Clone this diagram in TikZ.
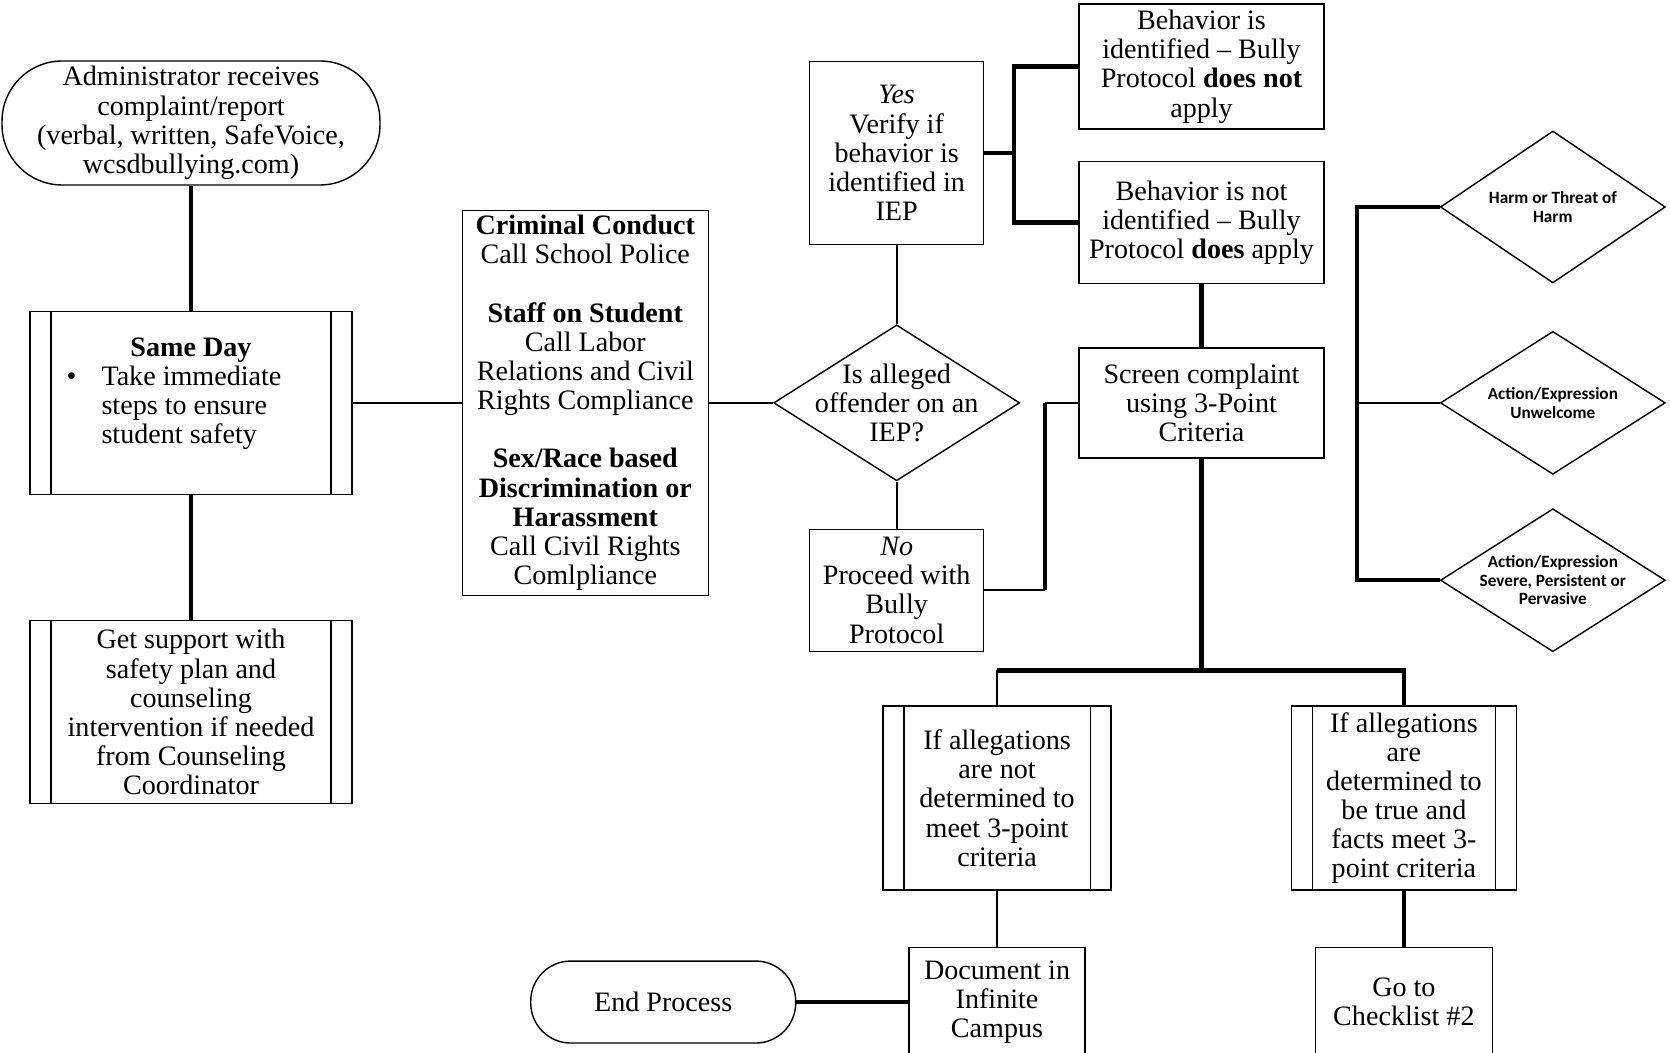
\documentclass[tikz,border=0pt]{standalone}
\usepackage{fontspec}
\setmainfont{Liberation Serif}
\newfontfamily\critfont{Carlito}
\usetikzlibrary{positioning}
\usetikzlibrary{shapes.geometric}

\tikzset{
	box/.style={draw, line width=0.8pt, align=center, inner sep=2pt, font=\fontsize{16}{16.6}\selectfont},
	terminal/.style={box, rounded corners=#1},
	decision/.style={box, diamond, aspect=1.5, inner sep=-0.3cm},
	criterion/.style={decision, font=\critfont\bfseries\fontsize{9.8}{10.6}\selectfont},
	thinline/.style={line width=1pt},
	thickline/.style={line width=2.4pt},
}

\begin{document}
\begin{tikzpicture}[x=0.02cm, y=-0.02cm]
	\useasboundingbox (0,0) rectangle (1670,1053);
	% left column
	\node[terminal=1.2cm, minimum width=7.56cm, minimum height=2.48cm] (start) at (191,123) {Administrator receives\\complaint/report\\(verbal, written, SafeVoice,\\wcsdbullying.com)};
	\node[box, minimum width=6.44cm, minimum height=3.66cm, below=2.5cm of start] (sameday) {\textbf{Same Day}\\\begin{tabular}[t]{@{}p{0.7cm}@{}l@{\hspace{0.68cm}}}\textbullet & Take immediate\\ & steps to ensure\\ & student safety\\[9pt]\end{tabular}};
	\node[box, minimum width=6.44cm, minimum height=3.66cm, below=2.5cm of sameday] (support) {Get support with\\safety plan and\\counseling\\intervention if needed\\from Counseling\\Coordinator};
	\node[box, minimum width=4.92cm, minimum height=7.7cm, right=2.18cm of sameday] (crime) {\textbf{Criminal Conduct}\\Call School Police\\[16.6pt]\textbf{Staff on Student}\\Call Labor\\Relations and Civil\\Rights Compliance\\[16.6pt]\textbf{Sex/Race based}\\\textbf{Discrimination or}\\\textbf{Harassment}\\Call Civil Rights\\Comlpliance};
	% IEP question
	\node[decision, minimum width=4.92cm, minimum height=3.12cm, right=1.28cm of crime] (iep) {Is alleged\\offender on an\\IEP?};
	\node[box, minimum width=3.48cm, minimum height=3.66cm, above=1.58cm of iep] (yes) {\textit{Yes}\\Verify if\\behavior is\\identified in\\IEP};
	\node[box, minimum width=3.48cm, minimum height=2.44cm, below=0.94cm of iep] (no) {\textit{No}\\Proceed with\\Bully\\Protocol};
	\node[box, minimum width=4.9cm, minimum height=2.2cm, right=1.16cm of iep] (screen) {Screen complaint\\using 3-Point\\Criteria};
	\node[box, minimum width=4.9cm, minimum height=2.44cm, above=1.26cm of screen] (apply) {Behavior is not\\identified -- Bully\\Protocol \textbf{does} apply};
	\node[box, minimum width=4.9cm, minimum height=2.5cm, above=0.62cm of apply] (notapply) {Behavior is\\identified -- Bully\\Protocol \textbf{does not}\\apply};
	% outcomes
	\node[box, minimum width=4.56cm, minimum height=3.68cm, below=4.94cm of screen, xshift=-4.09cm] (notmet) {If allegations\\are not\\determined to\\meet 3-point\\criteria};
	\node[box, minimum width=4.5cm, minimum height=3.68cm, right=3.58cm of notmet] (met) {If allegations\\are\\determined to\\be true and\\facts meet 3-\\point criteria};
	\node[box, minimum width=3.52cm, minimum height=2.18cm, below=1.12cm of notmet] (document) {Document in\\Infinite\\Campus};
	\node[box, minimum width=3.54cm, minimum height=2.18cm, below=1.12cm of met] (checklist) {Go to\\Checklist \#2};
	\node[terminal=0.8cm, minimum width=5.3cm, minimum height=1.64cm, left=2.24cm of document] (endproc) {End Process};
	% 3-point criteria
	\node[criterion, minimum width=4.5cm, minimum height=2.86cm, right=2.3cm of screen] (unwelcome) {Action/Expression\\Unwelcome};
	\node[criterion, minimum width=4.5cm, minimum height=3.04cm, above=0.94cm of unwelcome] (harm) {Harm or Threat of\\Harm};
	\node[criterion, minimum width=4.5cm, minimum height=2.86cm, below=0.66cm of unwelcome] (severe) {Action/Expression\\Severe, Persistent or\\Pervasive};

	% side bars of the process boxes
	\foreach \n in {sameday, support, notmet, met} {
		\draw[line width=0.8pt] ([xshift=0.43cm]\n.north west) -- ([xshift=0.43cm]\n.south west);
		\draw[line width=0.8pt] ([xshift=-0.43cm]\n.north east) -- ([xshift=-0.43cm]\n.south east);
	}

	\coordinate (fork) at ([xshift=-1.28cm]apply.west);
	\coordinate (nobend) at ([xshift=-0.66cm]screen.west);
	\coordinate (split) at ([yshift=-4.24cm]screen.south);
	\coordinate (crit) at ([xshift=-1.66cm]unwelcome.west);

	\draw[thickline] (start) -- (sameday);
	\draw[thickline] (sameday) -- (support);
	\draw[thinline] (sameday) -- (crime);
	\draw[thinline] (crime) -- (iep);
	\draw[thinline] (iep) -- (yes);
	\draw[thinline] (iep) -- (no);
	\draw[thickline] (yes.east) -- (yes.east -| fork);
	\draw[thickline] (notapply.west) -| (fork) -- (apply.west);
	\draw[thickline] (apply) -- (screen);
	\draw[thinline] (no.east) -- (no.east -| nobend);
	\draw[thickline] (no.east -| nobend) -- (nobend);
	\draw[thinline] (nobend) -- (screen.west);
	\draw[thickline] (screen.south) -- (split);
	\draw[thickline] (notmet.north |- split) -- (split) -| (met.north);
	\draw[thinline] (notmet.north) -- (notmet.north |- split);
	\draw[thinline] (notmet) -- (document);
	\draw[thickline] (met) -- (checklist);
	\draw[thickline] (endproc) -- (document);
	\draw[thickline] (harm.west) -| (crit) |- (severe.west);
	\draw[thinline] (crit) -- (unwelcome.west);
\end{tikzpicture}
\end{document}
